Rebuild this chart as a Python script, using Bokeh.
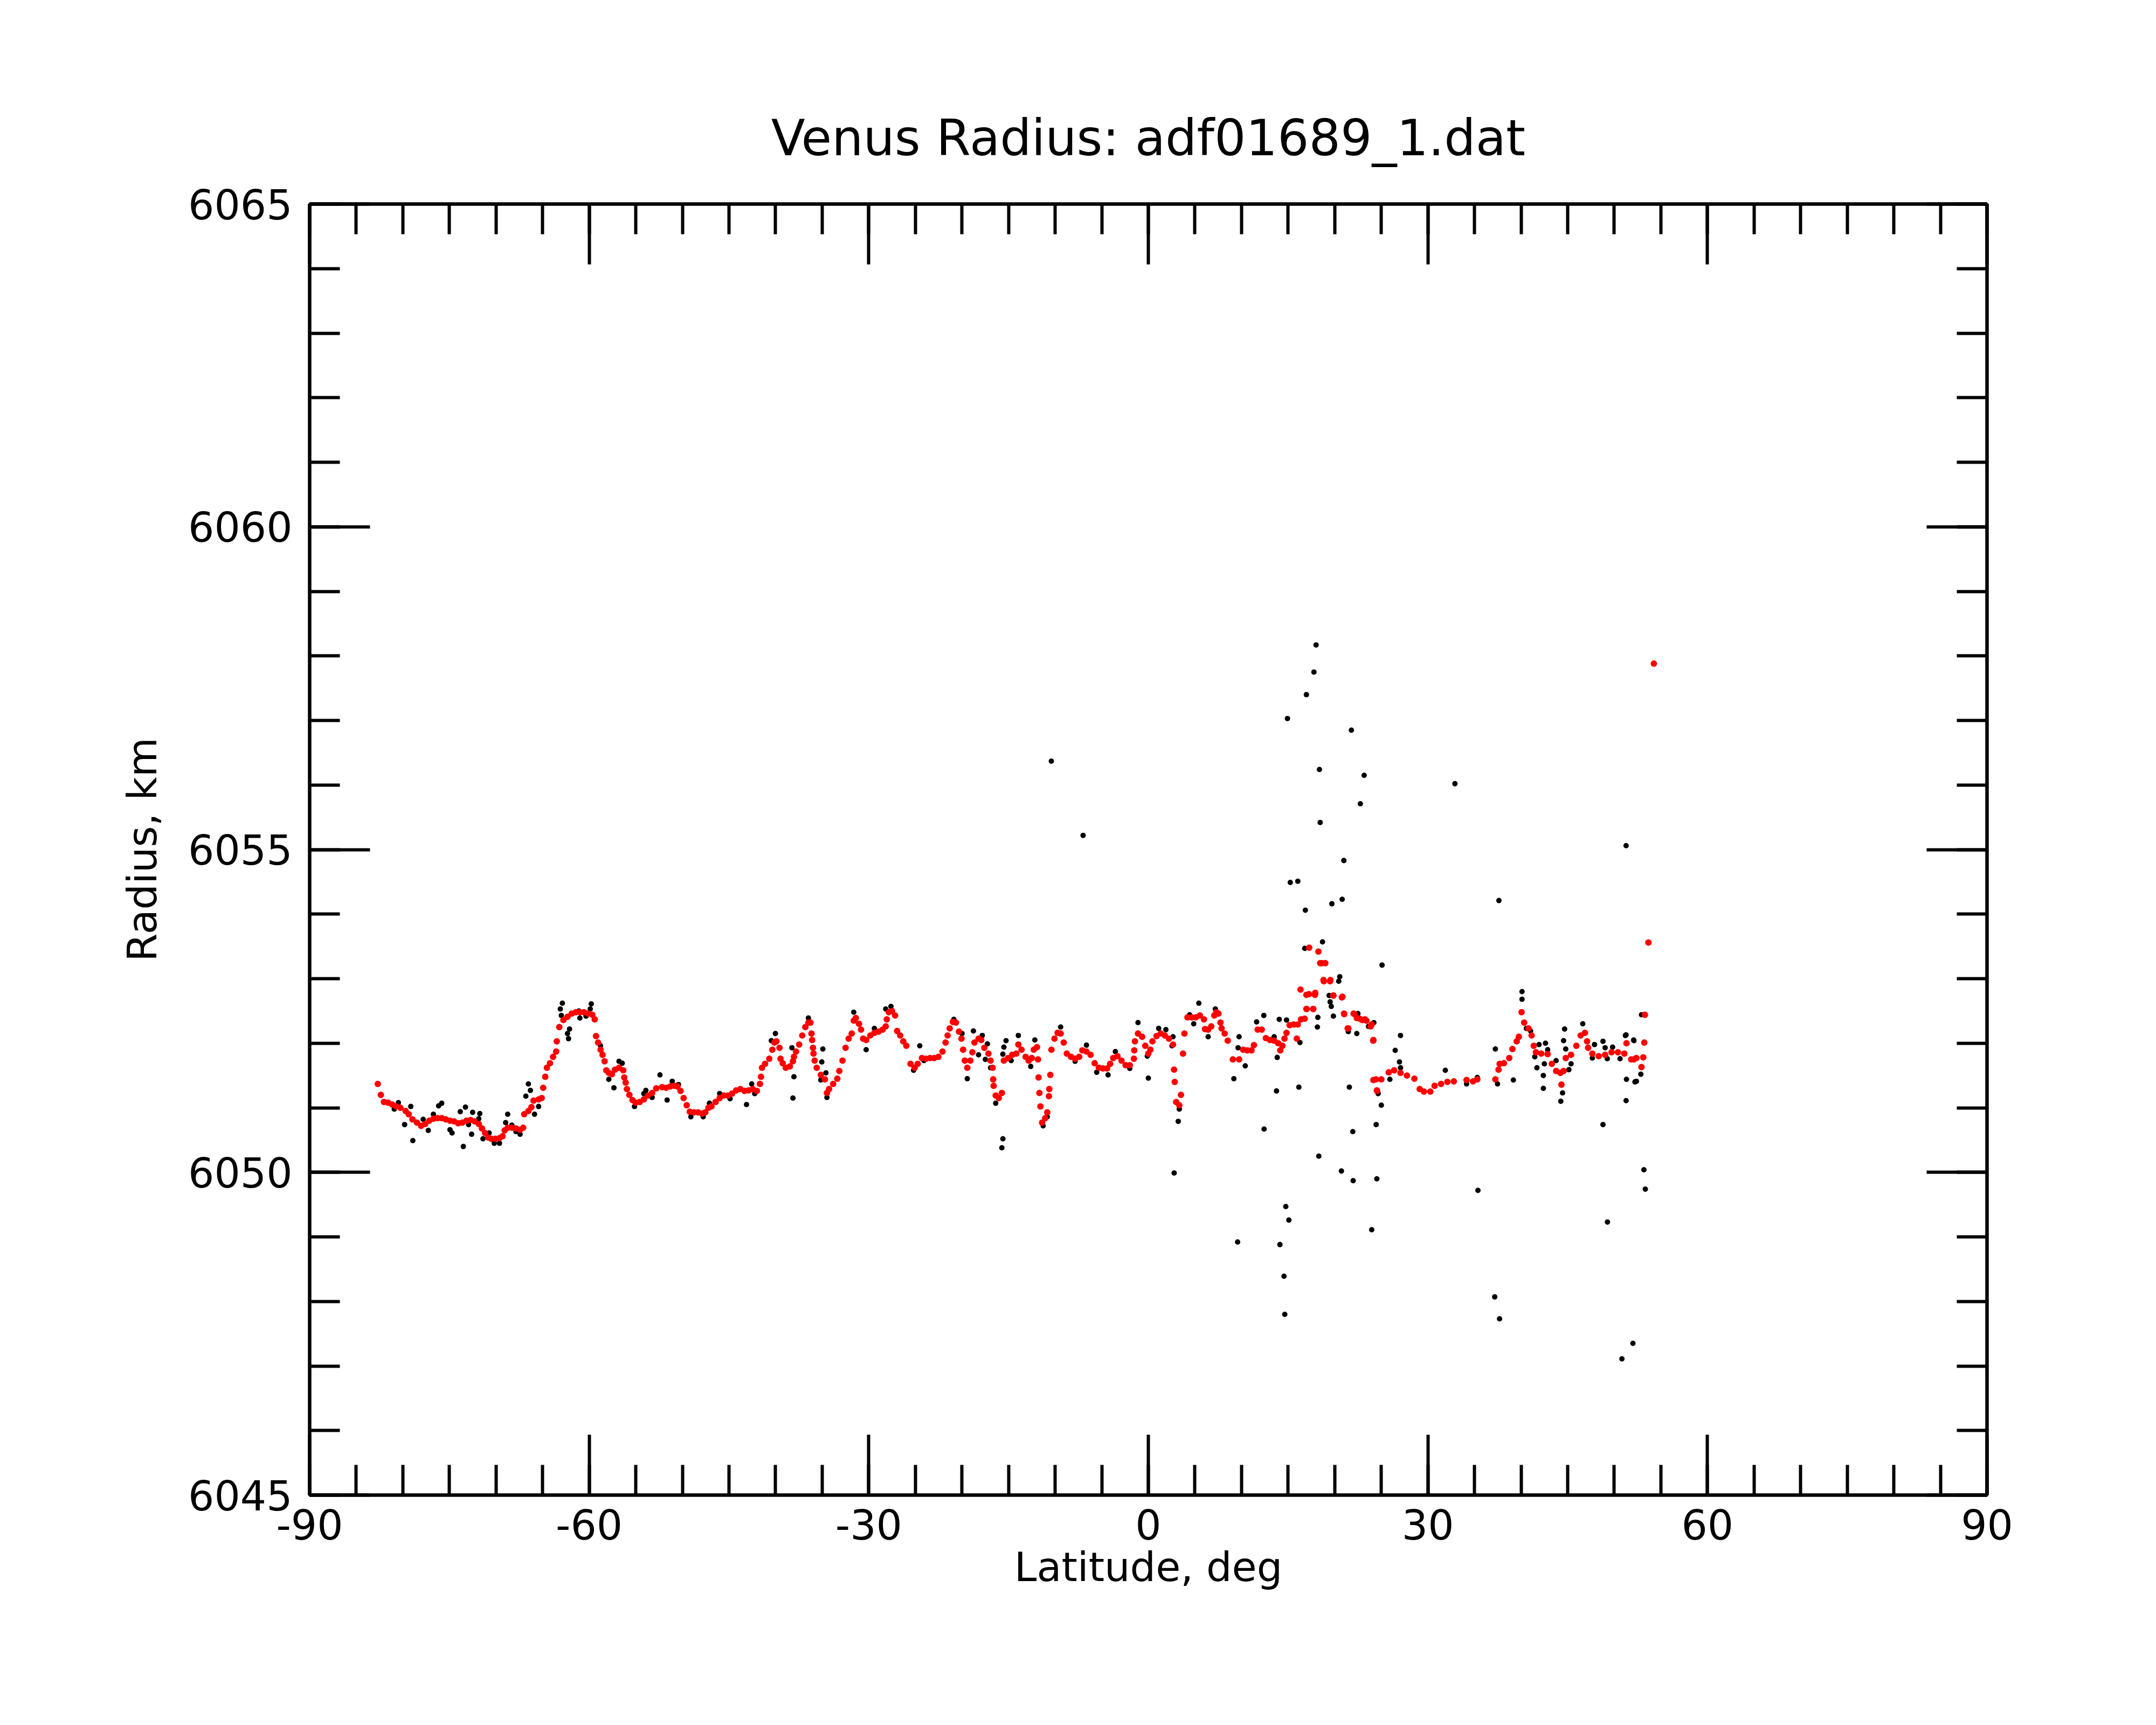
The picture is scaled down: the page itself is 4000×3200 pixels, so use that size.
from bokeh.plotting import figure
from bokeh.models import LinearAxis, FixedTicker, CustomJSTickFormatter
from bokeh.embed import file_html
from bokeh.resources import INLINE

# Red (smoothed) radius profile: latitude (deg) and radius (km)
red_lat = [
    -82.69, -82.36, -82.03, -81.58, -81.14, -80.70, -80.26, -79.70, -79.37, -78.97, -78.49, -78.04, -77.60, -77.16,
    -76.72, -76.27, -75.83, -75.39, -74.94, -74.50, -74.06, -73.62, -73.17, -72.73, -72.29, -71.85, -71.51, -71.18,
    -70.85, -70.52, -70.07, -69.63, -69.30, -69.08, -68.75, -68.30, -67.86, -67.42, -67.09, -66.98, -66.53, -66.20,
    -65.98, -65.43, -65.10, -64.94, -64.72, -64.54, -64.21, -63.88, -63.55, -63.48, -63.21, -62.77, -62.33, -61.88,
    -61.44, -61.00, -60.56, -60.12, -59.67, -59.41, -59.27, -59.05, -58.78, -58.57, -58.35, -58.17, -57.90, -57.57,
    -57.24, -56.80, -56.35, -56.24, -56.09, -55.95, -55.69, -55.36, -55.02, -54.58, -54.14, -53.70, -53.25, -52.81,
    -52.19, -51.75, -51.31, -50.86, -50.53, -50.20, -49.87, -49.54, -49.21, -48.76, -48.32, -47.88, -47.54, -47.21,
    -46.88, -46.44, -46.00, -45.55, -45.11, -44.67, -44.23, -43.78, -43.34, -42.90, -42.45, -42.01, -41.68, -41.57,
    -41.46, -41.13, -40.68, -40.35, -40.13, -39.91, -39.58, -39.47, -39.24, -38.91, -38.47, -38.14, -38.03, -37.81,
    -37.47, -37.14, -36.81, -36.48, -36.26, -36.15, -36.08, -35.99, -35.93, -35.81, -35.59, -35.15, -34.71, -34.49,
    -34.26, -33.82, -33.38, -33.16, -32.82, -32.49, -32.16, -31.83, -31.61, -31.39, -31.05, -30.83, -30.61, -30.28,
    -29.84, -29.40, -28.95, -28.51, -28.18, -28.07, -27.85, -27.51, -27.18, -26.96, -26.63, -26.30, -25.97, -25.52,
    -25.08, -24.75, -24.30, -23.86, -23.42, -22.98, -22.53, -22.09, -21.76, -21.54, -21.32, -20.98, -20.65, -20.32,
    -20.05, -19.88, -19.70, -19.43, -19.10, -18.88, -18.66, -18.22,
    -17.93, -17.60, -17.16, -16.93, -16.71, -16.65, -16.60, -16.38, -16.05, -15.72, -15.50, -15.05, -14.61, -14.17,
    -13.95, -13.61, -13.17, -12.84, -12.51, -12.29, -11.95, -11.84, -11.78, -11.69, -11.58, -11.40, -11.07, -10.85,
    -10.67, -10.63, -10.52, -10.40, -10.07, -9.74, -9.41, -9.08, -8.75, -8.30, -7.86, -7.42, -7.08, -6.64, -6.20,
    -5.76, -5.31, -4.87, -4.43, -4.10, -3.77, -3.32, -2.88, -2.44, -1.99, -1.55, -1.51, -1.44, -1.11, -0.67, -0.33,
    0.00, 0.22, 0.44, 0.88, 1.33, 1.77, 2.21, 2.65, 2.76, 2.83, 2.99, 3.32, 3.50, 3.72, 3.87, 4.20, 4.65, 5.09, 5.53,
    5.97, 6.08, 6.42, 6.75, 7.08, 7.30, 7.52, 7.74, 7.86, 8.19, 8.52, 9.07, 9.74, 10.18, 10.62, 11.07, 11.33, 11.73,
    12.17, 12.61, 13.06, 13.50, 13.94, 14.16, 14.39, 14.61, 14.83, 15.16, 15.60, 15.93,
    16.04, 16.33, 16.38, 16.78, 16.99, 16.96, 16.96, 17.23, 17.26, 17.68, 17.70, 17.91, 17.88, 18.25, 18.60, 18.44,
    18.83, 18.80, 18.99, 19.51, 19.54, 19.86, 19.84, 20.77, 21.00, 20.83, 21.02, 21.46, 21.39, 22.03, 22.12, 22.37,
    22.68, 22.95, 23.40, 23.23, 23.86, 24.13, 23.97, 24.15, 24.15, 24.43, 24.55, 24.52, 25.00, 25.80, 26.38, 27.06,
    27.75, 28.55, 29.12, 29.58, 30.26, 30.72, 31.41, 32.09, 32.78, 34.15, 34.84, 35.30, 37.24, 37.58, 37.70, 38.16,
    38.73, 39.07, 39.53, 39.76, 40.05, 40.33, 40.79, 41.13, 41.36, 41.59, 42.16, 42.85, 43.30, 43.76, 44.22, 44.56,
    44.33, 44.79, 45.36, 45.93, 46.39, 46.85, 47.08, 47.19, 47.65, 48.33, 49.02, 49.71, 50.39, 51.08, 51.31, 51.82,
    52.11, 52.37, 52.92, 53.11, 53.22, 53.29, 53.66, 54.25]
red_rad = [
    6051.37, 6051.20, 6051.09, 6051.08, 6051.05, 6051.02, 6051.00, 6050.95, 6050.90, 6050.82, 6050.77, 6050.72,
    6050.75, 6050.80, 6050.83, 6050.84, 6050.84, 6050.82, 6050.80, 6050.79, 6050.76, 6050.77, 6050.80, 6050.81,
    6050.79, 6050.75, 6050.68, 6050.61, 6050.54, 6050.52, 6050.52, 6050.53, 6050.56, 6050.65, 6050.69, 6050.69,
    6050.68, 6050.66, 6050.69, 6050.90, 6050.95, 6051.01, 6051.11, 6051.13, 6051.15, 6051.31, 6051.48, 6051.62,
    6051.69, 6051.79, 6051.87, 6052.03, 6052.25, 6052.36, 6052.41, 6052.46, 6052.48, 6052.48, 6052.48, 6052.46,
    6052.44, 6052.37, 6052.11, 6052.01, 6051.90, 6051.82, 6051.72, 6051.58, 6051.54, 6051.52, 6051.59, 6051.62,
    6051.58, 6051.47, 6051.39, 6051.29, 6051.20, 6051.12, 6051.08, 6051.09, 6051.13, 6051.19, 6051.23, 6051.30,
    6051.32, 6051.31, 6051.33, 6051.34, 6051.33, 6051.26, 6051.15, 6051.04, 6050.94, 6050.93, 6050.93, 6050.91,
    6050.93, 6051.00, 6051.02, 6051.09, 6051.15, 6051.19, 6051.19, 6051.22, 6051.27, 6051.29, 6051.26, 6051.27,
    6051.29, 6051.26, 6051.37, 6051.48, 6051.62, 6051.68, 6051.76, 6051.90, 6052.01, 6052.03, 6051.93, 6051.76,
    6051.69, 6051.62, 6051.64, 6051.72, 6051.79, 6051.87, 6051.98, 6052.12, 6052.25, 6052.32, 6052.32, 6052.15,
    6052.05, 6051.93, 6051.84, 6051.73, 6051.62, 6051.51, 6051.44, 6051.23, 6051.29, 6051.37, 6051.45, 6051.57,
    6051.73, 6051.93, 6052.07, 6052.15, 6052.35, 6052.39, 6052.30, 6052.21, 6052.07, 6052.05, 6052.12, 6052.16,
    6052.18, 6052.21, 6052.26, 6052.37, 6052.48, 6052.50, 6052.43, 6052.19, 6052.12, 6052.03, 6051.96, 6051.68,
    6051.62, 6051.68, 6051.77, 6051.76, 6051.77, 6051.77, 6051.79, 6051.87, 6052.01, 6052.12, 6052.23, 6052.33,
    6052.32, 6052.18, 6052.07, 6051.90, 6051.73, 6051.62, 6051.73, 6051.86, 6052.01, 6052.07,
    6052.05, 6051.93, 6051.84, 6051.73, 6051.62, 6051.44, 6051.34, 6051.19, 6051.15, 6051.23, 6051.73, 6051.77,
    6051.82, 6051.84, 6051.98, 6051.90, 6051.79, 6051.73, 6051.77, 6051.90, 6051.94, 6051.75, 6051.47, 6051.23,
    6051.02, 6050.77, 6050.84, 6050.93, 6051.18, 6051.29, 6051.51, 6051.90, 6052.07, 6052.16, 6052.15, 6052.01,
    6051.84, 6051.79, 6051.76, 6051.79, 6051.89, 6051.87, 6051.82, 6051.69, 6051.62, 6051.61, 6051.61, 6051.68,
    6051.77, 6051.80, 6051.73, 6051.66, 6051.66, 6051.76, 6051.89, 6052.03, 6052.15, 6052.10, 6051.96,
    6051.84, 6051.90, 6052.03, 6052.11, 6052.15, 6052.12, 6052.07, 6051.98, 6051.59, 6051.40, 6051.09, 6051.04,
    6051.20, 6051.84, 6052.15, 6052.40, 6052.40, 6052.40, 6052.43, 6052.37, 6052.22, 6052.21, 6052.26, 6052.43,
    6052.48, 6052.46, 6052.32, 6052.23, 6052.15, 6052.04, 6051.75, 6051.75, 6051.90, 6051.89, 6051.89, 6051.97,
    6052.21, 6052.21, 6052.08, 6052.05, 6052.04, 6052.00, 6051.89, 6051.96, 6052.07, 6052.16, 6052.28, 6052.29,
    6052.07,
    6052.29, 6052.83, 6052.37, 6052.38, 6052.53, 6052.75, 6052.53, 6052.76, 6053.48, 6052.53, 6052.53, 6052.78,
    6052.75, 6053.42, 6053.24, 6053.24, 6052.96, 6052.98, 6053.24, 6052.96, 6052.98, 6052.74, 6052.74, 6052.71,
    6052.46, 6052.72, 6052.45, 6052.23, 6052.23, 6052.46, 6052.45, 6052.39, 6052.38, 6052.36, 6052.35, 6052.37,
    6052.26, 6052.04, 6052.29, 6052.05, 6051.43, 6051.44, 6051.26, 6051.27, 6051.44, 6051.55, 6051.58, 6051.54,
    6051.50, 6051.45, 6051.29, 6051.25, 6051.25, 6051.34, 6051.37, 6051.40, 6051.41, 6051.43, 6051.41, 6051.44,
    6051.44, 6051.59, 6051.68, 6051.69, 6051.77, 6051.91, 6052.03, 6052.10, 6052.48, 6052.32, 6052.23, 6052.12,
    6051.96, 6051.86, 6051.84, 6051.83, 6051.68, 6051.57, 6051.54, 6051.57, 6051.36, 6051.77, 6051.82, 6051.96,
    6052.12, 6052.16, 6052.03, 6051.93, 6051.84, 6051.80, 6051.82, 6051.86, 6051.86, 6051.84, 6052.00, 6051.75,
    6051.75, 6051.77, 6051.63, 6051.78, 6052.01, 6052.44, 6053.56, 6057.88]

# Black (raw) radius measurements: latitude (deg) and radius (km)
blk_lat = [
    -62.88, -63.10, -62.99, -62.11, -62.33, -62.22, -61.11, -61.00, -60.34, -59.78, -59.89, -56.80, -56.46, -57.90,
    -57.35, -55.14, -66.53, -66.31, -66.80, -65.43, -65.87, -68.75, -68.97, -68.30, -67.42, -67.86, -70.19, -69.63,
    -71.40, -70.74, -73.51, -72.62, -74.72, -74.94, -77.27, -77.82, -78.93, -79.81, -80.92, -80.48, -79.15, -76.72,
    -76.16, -75.83, -73.84, -73.28, -72.51, -71.74, -71.85, -72.95, -54.14, -53.92, -53.25, -58.79,
    -52.41, -51.64, -51.09, -50.42, -49.09, -47.77, -47.10, -46.00, -44.89, -43.12, -42.56, -42.24, -40.02, -40.46,
    -38.25, -38.03, -38.14, -34.93, -35.04, -34.60, -35.15, -34.49, -36.48, -31.61, -30.28, -29.40, -27.62, -28.18,
    -24.53, -24.08, -25.19, -20.87, -19.99, -19.43, -18.77, -18.22,
    -17.82, -17.27, -17.49, -16.93, -16.38, -15.61, -15.72, -15.50, -15.27, -15.61, -13.95, -14.72, -12.62, -12.18,
    -11.29, -10.85, -9.41, -7.86, -6.64, -5.54, -4.32, -3.54, -1.99, -1.11, 0.00, -0.11, 1.11, 1.88, 2.65, 2.54,
    3.21, 3.32, 2.77, 4.43, 5.42, 4.87, 7.19, 6.42, 9.74, 9.63, 9.18, 10.40, 11.62, 12.39, 14.05, 13.83, 14.83,
    16.27, 13.50, -10.41, -7.00,
    20.54, 20.43, 19.40, 19.51, 19.63, 19.86, 18.19, 18.14, 21.46, 22.37, 22.49, 24.20, 23.63, 27.06, 26.49, 26.95,
    27.06, 25.92, 24.66, 31.87, 34.15, 35.30, 37.24, 37.47, 40.10, 40.10, 40.56, 41.02, 41.93, 41.47, 41.70, 42.62,
    42.85, 42.50, 42.39, 42.39, 43.76, 44.67, 44.56, 44.79, 45.36, 45.13, 44.45, 46.62, 47.88, 48.79, 49.02, 49.82,
    50.62, 51.19, 52.11, 51.31, 52.22, 47.65, 49.25,
    18.00, 17.77, 16.96, 14.93, 21.79, 18.36, 23.16, 22.75, 18.44, 32.90, 51.27, 37.62, 20.98, 15.23, 16.04, 16.85,
    19.69, 20.80, 16.78, 18.69, 25.08, 9.58, 12.42, 13.75, 14.12, 14.56, 14.64, 14.75, 15.08, 16.15, 18.29, 20.72,
    21.94, 21.98, 21.57, 23.97, 24.45, 24.52, 25.00, 35.37, 37.17, 37.69, 39.17, 44.26, 48.79, 49.27, 50.82, 52.00,
    53.18, 53.33, 51.27, 52.37, 52.85, 51.27, 52.08, 52.92]
blk_rad = [
    6052.62, 6052.53, 6052.43, 6052.22, 6052.15, 6052.07, 6052.50, 6052.39, 6052.42, 6052.61, 6052.53, 6051.72,
    6051.69, 6051.44, 6051.31, 6051.02, 6051.37, 6051.27, 6051.18, 6051.02, 6050.90, 6050.90, 6050.77, 6050.73,
    6050.59, 6050.63, 6050.45, 6050.45, 6050.52, 6050.61, 6050.40, 6050.59, 6050.61, 6050.66, 6050.65, 6050.82,
    6050.49, 6050.74, 6050.98, 6051.08, 6051.02, 6050.90, 6051.03, 6051.07, 6050.94, 6051.01, 6050.93, 6050.91,
    6050.83, 6050.74, 6051.22, 6051.27, 6051.16, 6051.96,
    6051.51, 6051.12, 6051.41, 6051.36, 6050.86, 6050.86, 6051.07, 6051.22, 6051.14, 6051.05, 6051.37, 6051.22,
    6052.15, 6052.04, 6051.93, 6051.48, 6051.15, 6051.91, 6051.71, 6051.54, 6051.43, 6051.16, 6052.39, 6052.48,
    6051.90, 6052.23, 6052.57, 6052.53, 6051.96, 6051.73, 6051.58, 6052.37, 6052.15, 6051.45, 6052.19, 6051.82,
    6052.12, 6051.99, 6051.75, 6051.62, 6051.07, 6050.52, 6050.38, 6051.94, 6052.04, 6051.83, 6052.12, 6051.73,
    6051.64, 6052.05, 6050.72, 6050.86, 6052.25, 6051.72, 6051.97, 6051.55, 6051.51, 6051.87, 6051.61, 6052.32,
    6051.46, 6051.80, 6052.23, 6052.21, 6052.10, 6051.96, 6050.79, 6050.98, 6049.99, 6052.44, 6052.62, 6052.30,
    6052.53, 6052.10, 6052.10, 6051.93, 6051.45, 6051.65, 6052.33, 6052.43, 6052.37, 6051.78, 6052.36, 6052.01,
    6052.10, 6056.37, 6055.22,
    6053.03, 6052.96, 6052.74, 6052.64, 6052.57, 6052.42, 6052.40, 6052.25, 6052.18, 6052.15, 6052.46, 6052.32,
    6052.26, 6052.12, 6051.89, 6051.71, 6051.62, 6051.44, 6051.22, 6051.58, 6051.37, 6051.47, 6051.91, 6051.37,
    6052.80, 6052.68, 6052.23, 6052.19, 6051.98, 6051.79, 6051.62, 6052.00, 6051.90, 6051.68, 6051.50, 6051.30,
    6051.73, 6052.22, 6052.04, 6051.91, 6051.68, 6051.59, 6051.23, 6052.30, 6051.98, 6052.03, 6051.93, 6051.94,
    6051.76, 6052.12, 6052.04, 6051.44, 6051.40, 6051.77, 6051.76,
    6058.17, 6057.75, 6057.40, 6057.03, 6056.85, 6056.24, 6056.15, 6055.71, 6055.42, 6056.02, 6055.06, 6054.21,
    6054.83, 6054.49, 6054.51, 6054.06, 6054.16, 6054.23, 6053.47, 6053.57, 6053.21, 6048.92, 6050.67, 6051.26,
    6048.88, 6048.39, 6047.80, 6049.47, 6049.26, 6051.32, 6050.25, 6050.02, 6050.63, 6049.87, 6051.32, 6049.11,
    6050.74, 6049.90, 6051.04, 6049.72, 6048.07, 6047.73, 6051.43, 6051.10, 6050.74, 6049.23, 6047.11, 6047.35,
    6050.04, 6049.74, 6051.11, 6051.41, 6051.52, 6052.13, 6052.05, 6052.44]

x_major = [-90, -60, -30, 0, 30, 60, 90]
x_minor = list(range(-90, 91, 5))
y_major = [6045, 6050, 6055, 6060, 6065]
y_minor = list(range(6045, 6066, 1))
x_labels = {-90: "-90", -60: "-60", -30: "-30", 0: "0", 30: "30", 60: "60", 90: "90"}

TITLE = "Venus Radius: adf01689_1.dat"
XLABEL = "Latitude, deg"
YLABEL = "Radius, km"
FONT = "DejaVu Sans"

p = figure(frame_width=3112, frame_height=2395,
           min_border_left=574, min_border_right=306, min_border_top=378, min_border_bottom=419,
           x_range=(-90, 90), y_range=(6045, 6065),
           output_backend="svg", toolbar_location=None, title=TITLE,
           x_axis_label=XLABEL, y_axis_label=YLABEL)
p.background_fill_color = "white"
p.border_fill_color = "white"
p.outline_line_color = "black"
p.outline_line_width = 6
p.xgrid.visible = False
p.ygrid.visible = False

p.title.align = "center"
p.title.text_font = FONT
p.title.text_font_size = "92px"
p.title.text_font_style = "normal"
p.title.text_color = "black"
p.title.standoff = 137


def style_axis(ax, ticks, minor, labels=True, label_standoff=28):
    ax.ticker = FixedTicker(ticks=ticks, minor_ticks=minor)
    ax.major_tick_in = 112
    ax.major_tick_out = 0
    ax.minor_tick_in = 56
    ax.minor_tick_out = 0
    ax.major_tick_line_width = 6
    ax.minor_tick_line_width = 6
    ax.major_tick_line_color = "black"
    ax.minor_tick_line_color = "black"
    ax.axis_line_color = "black"
    ax.axis_line_width = 6
    ax.major_label_text_font = FONT
    ax.major_label_text_color = "black"
    ax.major_label_standoff = label_standoff
    ax.axis_label_text_font = FONT
    ax.axis_label_text_font_size = "75px"
    ax.axis_label_text_font_style = "normal"
    ax.axis_label_text_color = "black"
    if labels:
        ax.major_label_text_font_size = "76px"
    else:
        ax.major_label_text_font_size = "1px"
        ax.formatter = CustomJSTickFormatter(code="return '';")


style_axis(p.xaxis[0], x_major, x_minor, True, 26)
p.xaxis[0].major_label_overrides = x_labels
p.xaxis[0].axis_label_standoff = 4
style_axis(p.yaxis[0], y_major, y_minor, True, 32)
p.yaxis[0].axis_label_standoff = 38

top = LinearAxis()
style_axis(top, x_major, x_minor, False, 0)
right = LinearAxis()
style_axis(right, y_major, y_minor, False, 0)
p.add_layout(top, "above")
p.add_layout(right, "right")

p.scatter(blk_lat, blk_rad, size=10, color="black", line_color=None)
p.scatter(red_lat, red_rad, size=12, color="red", line_color=None)

open("out.html", "w").write(file_html(p, INLINE))
